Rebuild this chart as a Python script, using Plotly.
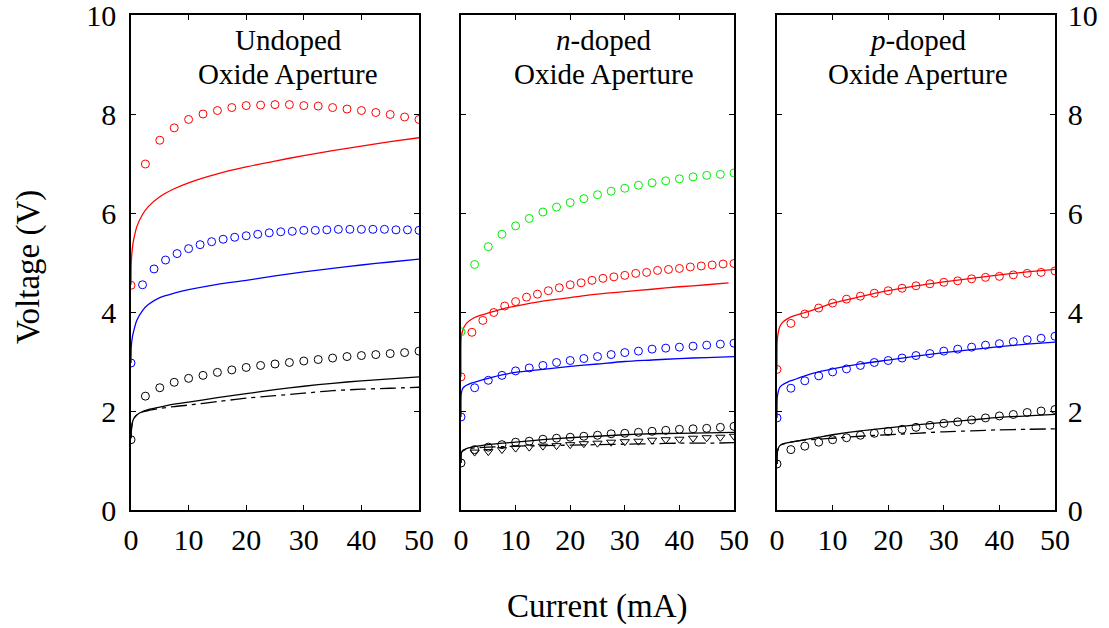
import plotly.graph_objects as go

# ---------------- data (current in mA, voltage in V) ----------------
I25 = [0, 2.5, 5, 7.5, 10, 12.5, 15, 17.5, 20, 22.5, 25, 27.5, 30, 32.5, 35, 37.5, 40, 42.5, 45, 47.5, 50]
I2 = [0, 2, 4, 6, 8, 10, 12, 14, 16, 18, 20, 22, 24, 26, 28, 30, 32, 34, 36, 38, 40, 42, 44, 46, 48, 50]
I_tri = [2.5, 5, 7.5, 10, 12.5, 15, 17.5, 20, 22.5, 25, 27.5, 30, 32.5, 35, 37.5, 40, 42.5, 45, 47.5, 50]
I_line = [0, 0.05, 0.25, 0.5, 1, 2, 3, 5, 7.5, 10, 15, 20, 25, 30, 35, 40, 45, 50]
I_line_n_red = [0, 0.05, 0.25, 0.5, 1, 2, 3, 5, 7.5, 10, 15, 20, 25, 30, 35, 40, 45, 49]

# Undoped oxide aperture
und_red_V = [4.54, 6.99, 7.47, 7.72, 7.89, 8.00, 8.07, 8.13, 8.17, 8.18, 8.19, 8.19, 8.17, 8.16, 8.13, 8.10, 8.07, 8.03, 7.99, 7.94, 7.89]
und_blue_V = [2.97, 4.55, 4.87, 5.05, 5.18, 5.28, 5.36, 5.42, 5.47, 5.51, 5.54, 5.57, 5.60, 5.62, 5.63, 5.65, 5.65, 5.66, 5.67, 5.67, 5.67, 5.67, 5.67, 5.66, 5.66, 5.65]
und_black_V = [1.42, 2.30, 2.47, 2.58, 2.66, 2.72, 2.78, 2.83, 2.88, 2.92, 2.95, 2.98, 3.01, 3.04, 3.07, 3.10, 3.12, 3.14, 3.16, 3.18, 3.21]
und_red_line = [4.55, 5.00, 5.30, 5.48, 5.72, 5.97, 6.13, 6.33, 6.49, 6.61, 6.79, 6.93, 7.05, 7.16, 7.26, 7.35, 7.44, 7.52]
und_blue_line = [2.97, 3.30, 3.50, 3.63, 3.83, 4.03, 4.15, 4.29, 4.38, 4.45, 4.56, 4.64, 4.73, 4.81, 4.88, 4.95, 5.01, 5.07]
und_black_line = [1.45, 1.60, 1.77, 1.85, 1.92, 1.99, 2.03, 2.08, 2.14, 2.18, 2.27, 2.35, 2.43, 2.50, 2.56, 2.61, 2.65, 2.69]
und_black_dash = [1.45, 1.60, 1.77, 1.85, 1.92, 1.98, 2.01, 2.05, 2.09, 2.12, 2.19, 2.26, 2.31, 2.36, 2.41, 2.44, 2.46, 2.48]

# n-doped oxide aperture
n_green_V = [3.60, 4.96, 5.32, 5.57, 5.74, 5.89, 6.02, 6.12, 6.21, 6.29, 6.37, 6.44, 6.50, 6.56, 6.61, 6.65, 6.69, 6.73, 6.76, 6.78, 6.81]
n_red_V = [2.69, 3.59, 3.83, 3.99, 4.12, 4.21, 4.30, 4.36, 4.43, 4.49, 4.55, 4.59, 4.64, 4.68, 4.71, 4.74, 4.78, 4.80, 4.84, 4.86, 4.88, 4.91, 4.93, 4.95, 4.97, 4.98]
n_blue_V = [1.88, 2.47, 2.62, 2.72, 2.81, 2.87, 2.92, 2.98, 3.02, 3.06, 3.10, 3.14, 3.18, 3.21, 3.25, 3.27, 3.29, 3.31, 3.33, 3.35, 3.37]
n_black_V = [0.95, 1.22, 1.27, 1.32, 1.37, 1.39, 1.43, 1.45, 1.47, 1.49, 1.51, 1.54, 1.55, 1.57, 1.59, 1.61, 1.63, 1.64, 1.65, 1.67, 1.69]
n_tri_V = [1.17, 1.18, 1.22, 1.25, 1.27, 1.29, 1.30, 1.32, 1.34, 1.35, 1.37, 1.38, 1.39, 1.41, 1.42, 1.43, 1.45, 1.46, 1.47, 1.49]
n_red_line = [2.69, 3.50, 3.60, 3.68, 3.77, 3.86, 3.91, 3.98, 4.06, 4.12, 4.22, 4.29, 4.36, 4.41, 4.46, 4.51, 4.55, 4.59]
n_blue_line = [1.88, 2.35, 2.44, 2.48, 2.52, 2.57, 2.60, 2.66, 2.73, 2.78, 2.84, 2.90, 2.95, 3.00, 3.03, 3.06, 3.08, 3.10]
n_black_line = [0.95, 1.15, 1.19, 1.21, 1.24, 1.27, 1.29, 1.32, 1.35, 1.37, 1.42, 1.46, 1.49, 1.52, 1.54, 1.55, 1.56, 1.57]
n_black_dash = [0.95, 1.15, 1.19, 1.21, 1.23, 1.25, 1.26, 1.27, 1.28, 1.29, 1.30, 1.31, 1.32, 1.33, 1.34, 1.35, 1.35, 1.36]

# p-doped oxide aperture
p_red_V = [2.84, 3.77, 3.96, 4.08, 4.18, 4.26, 4.32, 4.38, 4.43, 4.48, 4.53, 4.57, 4.60, 4.63, 4.67, 4.70, 4.72, 4.75, 4.78, 4.80, 4.83]
p_blue_V = [1.86, 2.46, 2.61, 2.71, 2.79, 2.85, 2.92, 2.98, 3.02, 3.07, 3.12, 3.16, 3.21, 3.25, 3.29, 3.33, 3.36, 3.40, 3.44, 3.47, 3.51]
p_black_V = [0.93, 1.22, 1.29, 1.37, 1.42, 1.46, 1.51, 1.55, 1.59, 1.63, 1.67, 1.71, 1.75, 1.78, 1.82, 1.86, 1.90, 1.93, 1.97, 2.00, 2.03]
p_red_line = [2.84, 3.43, 3.60, 3.70, 3.79, 3.87, 3.92, 3.99, 4.08, 4.18, 4.31, 4.43, 4.53, 4.61, 4.68, 4.75, 4.81, 4.86]
p_blue_line = [1.86, 2.28, 2.40, 2.48, 2.53, 2.59, 2.63, 2.71, 2.79, 2.85, 2.95, 3.03, 3.11, 3.18, 3.24, 3.30, 3.35, 3.39]
p_black_line = [0.93, 1.17, 1.25, 1.30, 1.33, 1.36, 1.38, 1.42, 1.47, 1.52, 1.60, 1.66, 1.72, 1.77, 1.82, 1.87, 1.90, 1.93]
p_black_dash = [0.93, 1.17, 1.25, 1.30, 1.33, 1.36, 1.38, 1.41, 1.43, 1.45, 1.49, 1.52, 1.55, 1.58, 1.60, 1.62, 1.63, 1.64]

panel_titles = [("Undoped", "Oxide Aperture"), ("<i>n</i>-doped", "Oxide Aperture"), ("<i>p</i>-doped", "Oxide Aperture")]
y_ticks = [0, 2, 4, 6, 8, 10]
x_ticks = [0, 10, 20, 30, 40, 50]

RED, BLUE, BLACK, GREEN = "#ff0000", "#0000ff", "#000000", "#00ee00"
FONT = "'Liberation Serif', 'Times New Roman', serif"
DASHDOT = "16px,5px,4px,5px"

fig = go.Figure()


def circles(x, y, color, ax, symbol="circle-open", size=8):
    fig.add_trace(go.Scatter(x=x, y=y, mode="markers", xaxis=ax[0], yaxis=ax[1],
                             marker=dict(symbol=symbol, size=size, color=color,
                                         line=dict(width=1, color=color)),
                             showlegend=False, hoverinfo="skip"))


def curve(x, y, color, ax, dash="solid"):
    fig.add_trace(go.Scatter(x=x, y=y, mode="lines", xaxis=ax[0], yaxis=ax[1],
                             line=dict(color=color, width=1.3, dash=dash, shape="spline", smoothing=0.7),
                             showlegend=False, hoverinfo="skip"))


A1, A2, A3 = ("x", "y"), ("x2", "y2"), ("x3", "y3")

# panel 1
curve(I_line, und_red_line, RED, A1)
curve(I_line, und_blue_line, BLUE, A1)
curve(I_line, und_black_line, BLACK, A1)
curve(I_line, und_black_dash, BLACK, A1, DASHDOT)
circles(I25, und_red_V, RED, A1)
circles(I2, und_blue_V, BLUE, A1)
circles(I25, und_black_V, BLACK, A1)

# panel 2
curve(I_line_n_red, n_red_line, RED, A2)
curve(I_line, n_blue_line, BLUE, A2)
curve(I_line, n_black_line, BLACK, A2)
curve(I_line, n_black_dash, BLACK, A2, DASHDOT)
circles(I25, n_green_V, GREEN, A2)
circles(I2, n_red_V, RED, A2)
circles(I25, n_blue_V, BLUE, A2)
circles(I25, n_black_V, BLACK, A2)
circles(I_tri, n_tri_V, BLACK, A2, symbol="triangle-down-open", size=8)

# panel 3
curve(I_line, p_red_line, RED, A3)
curve(I_line, p_blue_line, BLUE, A3)
curve(I_line, p_black_line, BLACK, A3)
curve(I_line, p_black_dash, BLACK, A3, DASHDOT)
circles(I25, p_red_V, RED, A3)
circles(I25, p_blue_V, BLUE, A3)
circles(I25, p_black_V, BLACK, A3)

W, H = 1109, 628
ML, MR, MT, MB = 131, 54, 15, 118
PW = W - ML - MR
PH = H - MT - MB


def px_x(px):
    return (px - ML) / PW


def px_y(py):
    return (H - MB - py) / PH


domains = [[0, px_x(419)], [px_x(461), px_x(734)], [px_x(777), 1]]

axis_common = dict(showline=True, linecolor="black", linewidth=1.5, mirror="ticks",
                   ticks="inside", ticklen=5, tickwidth=1, tickcolor="black",
                   showgrid=False, zeroline=False, automargin=False,
                   ticklabeloverflow="allow",
                   tickfont=dict(family=FONT, size=30, color="black"))

layout = dict(width=W, height=H,
              margin=dict(l=ML, r=MR, t=MT, b=MB, autoexpand=False),
              paper_bgcolor="white", plot_bgcolor="white", showlegend=False,
              font=dict(family=FONT, color="black"))

for k in range(3):
    sx = "" if k == 0 else str(k + 1)
    layout["xaxis" + sx] = dict(axis_common, domain=domains[k], range=[0, 50],
                                tickvals=x_ticks, anchor="y" + sx, ticklabelstandoff=2)
    yax = dict(axis_common, domain=[0, 1], range=[0, 10], tickvals=y_ticks,
               anchor="x" + sx, showticklabels=(k != 1), ticklabelstandoff=7)
    if k == 2:
        yax["side"] = "right"
        yax["ticklabelstandoff"] = 5
    layout["yaxis" + sx] = yax

fig.update_layout(**layout)

title_centers = [288, 604, 918]
for (l1, l2), cx in zip(panel_titles, title_centers):
    for txt, cy in ((l1, 40), (l2, 74)):
        fig.add_annotation(text=txt, x=px_x(cx), y=px_y(cy), xref="paper", yref="paper",
                           xanchor="center", yanchor="middle", borderpad=0,
                           showarrow=False, font=dict(family=FONT, size=29))

fig.add_annotation(text="Current (mA)", x=px_x(597), y=px_y(606), xref="paper", yref="paper",
                   xanchor="center", yanchor="middle",
                   showarrow=False, font=dict(family=FONT, size=33))
fig.add_annotation(text="Voltage (V)", x=px_x(28), y=px_y(267), xref="paper", yref="paper",
                   xanchor="center", yanchor="middle",
                   showarrow=False, textangle=-90, font=dict(family=FONT, size=33))

fig.write_html("out.html")
